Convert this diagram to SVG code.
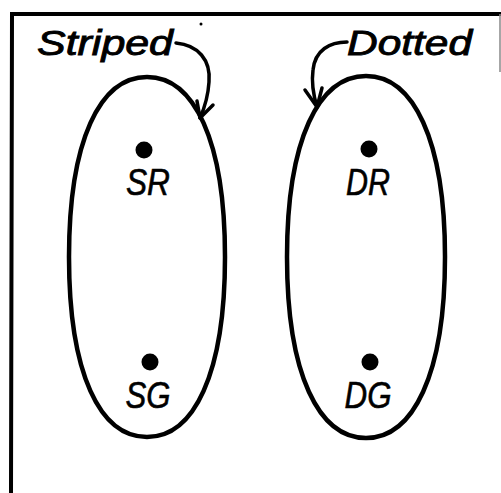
<svg xmlns="http://www.w3.org/2000/svg" width="501" height="493" viewBox="0 0 501 493">
<style>
.frame{fill:none;stroke:#000;stroke-width:4}
.set{fill:none;stroke:#000;stroke-width:4.5}
.conn{fill:none;stroke:#000;stroke-width:3.5;stroke-linecap:round;stroke-linejoin:round}
.pt{fill:#000}
.lbl{font-family:"Liberation Sans",Arial,sans-serif;font-style:italic;font-size:37px;fill:#000;stroke:#000;stroke-width:0.6;text-anchor:middle}
.ttl{font-family:"Liberation Sans",Arial,sans-serif;font-style:italic;font-size:35px;fill:#000;stroke:#000;stroke-width:0.9}
</style>
<rect width="501" height="493" fill="#fff"/>
<g id="frame">
<path class="frame" d="M11,493 L12,14 L501,14"/>
<line x1="500" y1="14" x2="500" y2="72" stroke="#888" stroke-width="1.5"/>
<circle cx="201" cy="24" r="1.5" fill="#000"/>
</g>
<g id="striped">
<path class="set" d="M147,77 C194,77 225,140 225,257 C225,374 194,437 147,437 C100,437 69,374 69,257 C69,140 100,77 147,77 Z"/>
<text class="ttl" x="37" y="55" textLength="136" lengthAdjust="spacingAndGlyphs">Striped</text>
</g>
<g id="dotted">
<path class="set" d="M366,76 C413,76 445,139 445,257 C445,375 413,438 366,438 C319,438 287,375 287,257 C287,139 319,76 366,76 Z"/>
<text class="ttl" x="347" y="55" textLength="125" lengthAdjust="spacingAndGlyphs">Dotted</text>
</g>
<g id="SR">
<circle class="pt" cx="144" cy="150" r="8.5"/>
<text class="lbl" x="148" y="195" textLength="44" lengthAdjust="spacingAndGlyphs">SR</text>
</g>
<g id="SG">
<circle class="pt" cx="150" cy="362" r="8.5"/>
<text class="lbl" x="148" y="408" textLength="45" lengthAdjust="spacingAndGlyphs">SG</text>
</g>
<g id="DR">
<circle class="pt" cx="369" cy="149" r="8.5"/>
<text class="lbl" x="368" y="195" textLength="44" lengthAdjust="spacingAndGlyphs">DR</text>
</g>
<g id="DG">
<circle class="pt" cx="370" cy="362" r="8.5"/>
<text class="lbl" x="368" y="408" textLength="47" lengthAdjust="spacingAndGlyphs">DG</text>
</g>
<g id="connectors">
<path class="conn" d="M176,43 C198,45 211,60 209,82 C208,98 204,109 200,118"/>
<path class="conn" d="M197,101 L200,118 L213,105"/>
<path class="conn" d="M347,42 C330,42 315,50 313,70 C311,85 314,97 317,107"/>
<path class="conn" d="M305,90 L317,107 L322,88"/>
</g>
</svg>
